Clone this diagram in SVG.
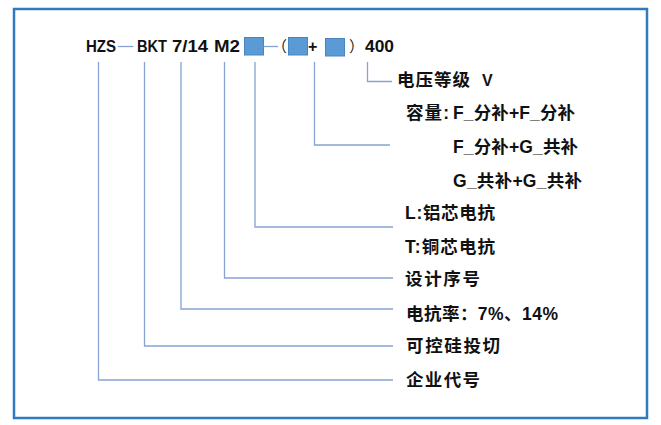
<svg xmlns="http://www.w3.org/2000/svg" width="661" height="425" viewBox="0 0 661 425">
<style>
.lat{font-family:"Liberation Sans","Noto Sans CJK SC",sans-serif;font-weight:bold;font-size:16px;fill:#111}
.cn{font-family:"Liberation Sans","Noto Sans CJK SC",sans-serif;font-weight:bold;font-size:17.5px;fill:#111}
.par{font-family:"Noto Sans CJK SC",sans-serif;font-size:15px;fill:#222}
.box{fill:#5b9bd5;stroke:#4a84bf;stroke-width:1}
.ln{fill:none;stroke:#86a3d2;stroke-width:1.3}
</style>
<rect x="14" y="9" width="633" height="409" fill="#fff" stroke="#2e7bbf" stroke-width="2.5"/>
<g id="code">
<g id="hzs"><text class="lat" x="86" y="52" textLength="30" lengthAdjust="spacingAndGlyphs">HZS</text></g>
<g id="bkt"><text class="lat" x="137" y="52" textLength="30" lengthAdjust="spacingAndGlyphs">BKT</text></g>
<g id="ratio"><text class="lat" x="172" y="52" textLength="36" lengthAdjust="spacingAndGlyphs">7/14</text></g>
<g id="m2"><text class="lat" x="214" y="52" textLength="26" lengthAdjust="spacingAndGlyphs">M2</text></g>
<g id="box1"><rect class="box" x="244.5" y="37.5" width="19" height="17.5"/></g>
<g id="lparen"><text class="par" x="272" y="52">（</text></g>
<g id="box2"><rect class="box" x="288.5" y="37.5" width="19" height="17.5"/></g>
<g id="plus"><text class="lat" x="308" y="52">+</text></g>
<g id="box3"><rect class="box" x="325.5" y="38.5" width="19" height="17.5"/></g>
<g id="rparen"><text class="par" x="349" y="52">）</text></g>
<g id="v400"><text class="lat" x="365" y="52" textLength="29" lengthAdjust="spacingAndGlyphs">400</text></g>
</g>
<g id="connectors">
<path class="ln" d="M118 46.5H133.5"/>
<path class="ln" d="M263.5 46.5H278"/>
<path class="ln" d="M98.5 62V380H393"/>
<path class="ln" d="M144.5 62V346H393"/>
<path class="ln" d="M181 62V309H393"/>
<path class="ln" d="M224.5 62V278H393"/>
<path class="ln" d="M255 62V227H393"/>
<path class="ln" d="M314.5 62V145H390"/>
<path class="ln" d="M367.5 62V81.5H392"/>
</g>
<g id="voltage"><text class="cn" x="397" y="80" dominant-baseline="central" textLength="73">电压等级</text><text class="lat" x="482" y="80" dominant-baseline="central">V</text></g>
<g id="capacity">
<text class="cn" x="406" y="113" dominant-baseline="central" textLength="43">容量:</text>
<text class="cn" x="453" y="113" dominant-baseline="central" textLength="122">F_分补+F_分补</text>
<text class="cn" x="453" y="146.5" dominant-baseline="central" textLength="125">F_分补+G_共补</text>
<text class="cn" x="453" y="180.5" dominant-baseline="central" textLength="129">G_共补+G_共补</text>
</g>
<g id="reactor-al"><text class="cn" x="405" y="213" dominant-baseline="central" textLength="90">L:铝芯电抗</text></g>
<g id="reactor-cu"><text class="cn" x="405" y="246.5" dominant-baseline="central" textLength="90">T:铜芯电抗</text></g>
<g id="design"><text class="cn" x="405" y="279" dominant-baseline="central" textLength="75">设计序号</text></g>
<g id="rate"><text class="cn" x="406" y="314" dominant-baseline="central" textLength="152">电抗率：7%、14%</text></g>
<g id="scr"><text class="cn" x="406" y="345.5" dominant-baseline="central" textLength="94">可控硅投切</text></g>
<g id="company"><text class="cn" x="406" y="380" dominant-baseline="central" textLength="74">企业代号</text></g>
</svg>
